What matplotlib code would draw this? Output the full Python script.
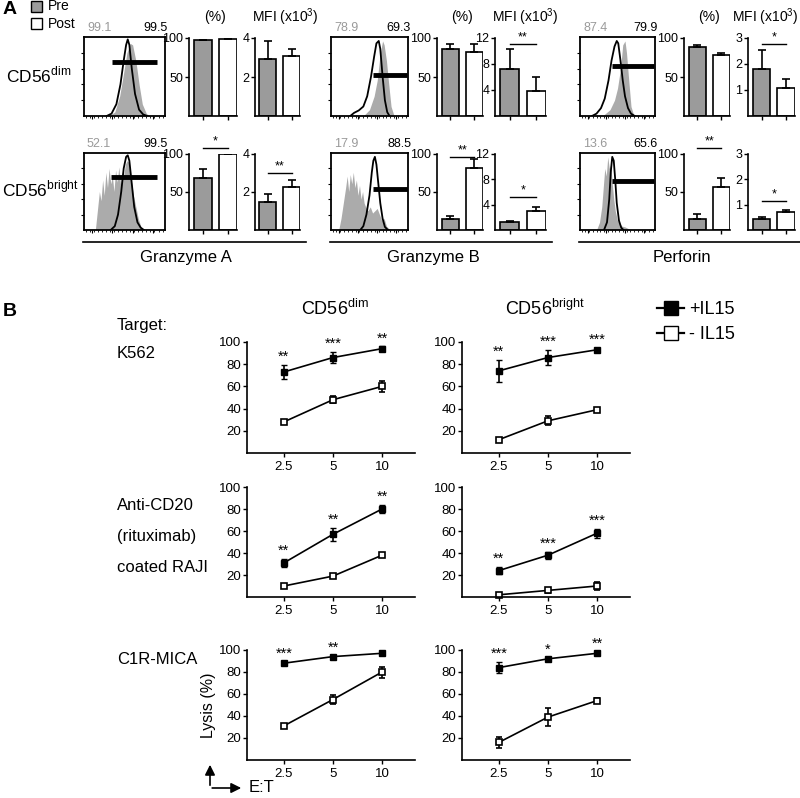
import numpy as np
import matplotlib.pyplot as plt
from matplotlib.lines import Line2D
from matplotlib.patches import Rectangle, FancyArrowPatch

plt.rcParams['font.family'] = ['Liberation Sans', 'DejaVu Sans']

# ---------------- panel A data ----------------
markers = ["Granzyme A", "Granzyme B", "Perforin"]
# each inner list: [CD56dim, CD56bright]
gate_pre = [["99.1", "52.1"], ["78.9", "17.9"], ["87.4", "13.6"]]
gate_post = [["99.5", "99.5"], ["69.3", "88.5"], ["79.9", "65.6"]]

pct_pre = [[97, 69], [86, 15], [88, 14]]
pct_pre_err = [[1, 11], [6, 4], [3, 7]]
pct_post = [[99, 99.5], [82, 81], [78, 57]]
pct_post_err = [[0.8, 0.3], [10, 12], [3, 11]]
pct_sig = [["", "*"], ["", "**"], ["", "**"]]
pct_sig_y = [[0, 108], [0, 96], [0, 108]]

mfi_pre = [[2.9, 1.45], [7.3, 1.2], [1.8, 0.45]]
mfi_pre_err = [[0.95, 0.42], [3.0, 0.2], [0.75, 0.05]]
mfi_post = [[3.1, 2.25], [3.9, 3.0], [1.08, 0.72]]
mfi_post_err = [[0.35, 0.38], [2.1, 0.6], [0.35, 0.08]]
mfi_sig = [["", "**"], ["**", "*"], ["*", "*"]]
mfi_sig_y = [[0, 3.0], [11.1, 5.2], [2.76, 1.14]]
mfi_max = [4, 12, 3]
mfi_ticks = [[2, 4], [4, 8, 12], [1, 2, 3]]

# flow histograms (x and height as fraction of the box)
hist_gray_x = [
    [[0.30, 0.38, 0.44, 0.49, 0.53, 0.57, 0.60, 0.64, 0.68, 0.72, 0.77, 0.82],
     [0.14, 0.17, 0.19, 0.21, 0.23, 0.25, 0.27, 0.29, 0.31, 0.33, 0.35, 0.37, 0.39, 0.41,
      0.43, 0.45, 0.47, 0.49, 0.51, 0.53, 0.55, 0.57, 0.59, 0.61, 0.64, 0.67, 0.70, 0.74]],
    [[0.42, 0.50, 0.56, 0.60, 0.64, 0.67, 0.69, 0.72, 0.75, 0.78, 0.82],
     [0.10, 0.13, 0.16, 0.19, 0.21, 0.23, 0.25, 0.27, 0.29, 0.31, 0.33, 0.35, 0.37, 0.39,
      0.41, 0.43, 0.45, 0.48, 0.51, 0.54, 0.57, 0.60, 0.63, 0.66, 0.69, 0.72, 0.75, 0.78]],
    [[0.30, 0.40, 0.46, 0.50, 0.54, 0.57, 0.60, 0.62, 0.65, 0.68, 0.72],
     [0.22, 0.26, 0.29, 0.31, 0.33, 0.35, 0.37, 0.39, 0.41, 0.43, 0.45, 0.47, 0.50, 0.53,
      0.56, 0.60, 0.64, 0.68]],
]
hist_gray_y = [
    [[0, 0.05, 0.25, 0.55, 0.80, 0.92, 0.90, 0.70, 0.40, 0.15, 0.03, 0],
     [0, 0.30, 0.50, 0.38, 0.65, 0.45, 0.75, 0.55, 0.80, 0.60, 0.70, 0.50, 0.78, 0.62,
      0.82, 0.60, 0.75, 0.70, 0.85, 0.90, 0.88, 0.75, 0.60, 0.45, 0.30, 0.15, 0.05, 0]],
    [[0, 0.08, 0.25, 0.45, 0.80, 0.95, 0.90, 0.70, 0.40, 0.12, 0],
     [0, 0.15, 0.35, 0.55, 0.70, 0.50, 0.72, 0.60, 0.75, 0.55, 0.65, 0.45, 0.58, 0.40,
      0.50, 0.35, 0.30, 0.25, 0.30, 0.22, 0.25, 0.28, 0.20, 0.12, 0.15, 0.05, 0.02, 0]],
    [[0, 0.08, 0.20, 0.35, 0.60, 0.90, 0.95, 0.80, 0.45, 0.12, 0],
     [0, 0.10, 0.30, 0.55, 0.80, 0.70, 0.95, 0.80, 0.85, 0.60, 0.40, 0.25, 0.12, 0.08,
      0.05, 0.04, 0.02, 0]],
]
hist_black_x = [
    [[0.28, 0.34, 0.40, 0.45, 0.49, 0.52, 0.54, 0.56, 0.59, 0.63, 0.68, 0.73, 0.78],
     [0.33, 0.38, 0.42, 0.46, 0.49, 0.52, 0.54, 0.56, 0.59, 0.62, 0.66, 0.70, 0.74]],
    [[0.25, 0.30, 0.36, 0.42, 0.47, 0.52, 0.56, 0.59, 0.62, 0.64, 0.67, 0.70, 0.73, 0.76],
     [0.38, 0.42, 0.46, 0.50, 0.53, 0.55, 0.57, 0.59, 0.61, 0.64, 0.67, 0.70, 0.74]],
    [[0.16, 0.22, 0.28, 0.33, 0.38, 0.42, 0.46, 0.49, 0.51, 0.54, 0.57, 0.60, 0.64, 0.68, 0.73],
     [0.32, 0.36, 0.39, 0.41, 0.43, 0.45, 0.47, 0.49, 0.52, 0.55, 0.58]],
]
hist_black_y = [
    [[0, 0.03, 0.15, 0.40, 0.70, 0.90, 0.97, 0.90, 0.60, 0.28, 0.08, 0.02, 0],
     [0, 0.05, 0.20, 0.50, 0.80, 0.95, 0.97, 0.90, 0.60, 0.30, 0.10, 0.03, 0]],
    [[0, 0.04, 0.07, 0.12, 0.25, 0.50, 0.75, 0.92, 0.95, 0.85, 0.50, 0.20, 0.05, 0],
     [0, 0.05, 0.20, 0.45, 0.75, 0.90, 0.95, 0.85, 0.65, 0.35, 0.15, 0.04, 0]],
    [[0, 0.03, 0.10, 0.22, 0.45, 0.70, 0.88, 0.95, 0.92, 0.70, 0.45, 0.25, 0.10, 0.03, 0],
     [0, 0.10, 0.40, 0.75, 0.95, 0.90, 0.65, 0.35, 0.12, 0.03, 0]],
]
gate_x0 = [[0.34, 0.33], [0.55, 0.55], [0.42, 0.42]]
gate_x1 = [[0.90, 0.90], [0.99, 1.00], [0.98, 0.98]]
gate_y = [[0.68, 0.69], [0.52, 0.53], [0.63, 0.63]]

# ---------------- panel B data ----------------
et_labels = ["2.5", "5", "10"]
# [row][col] -> CD56dim / CD56bright
plus_mean = [[[73, 86, 94], [74, 86, 93]],
             [[31, 57, 80], [24, 38, 58]],
             [[88, 94, 97], [84, 92, 97]]]
plus_err = [[[6, 5, 2], [10, 7, 2]],
            [[4, 6, 4], [3, 3, 4]],
            [[1, 1, 1], [5, 1, 1]]]
minus_mean = [[[28, 48, 60], [12, 29, 39]],
              [[10, 19, 38], [2, 6, 10]],
              [[31, 55, 80], [16, 39, 54]]]
minus_err = [[[1, 3, 5], [1, 4, 1]],
             [[1, 1, 1], [1, 2, 4]],
             [[2, 4, 5], [5, 8, 2]]]
stars = [[["**", "***", "**"], ["**", "***", "***"]],
         [["**", "**", "**"], ["**", "***", "***"]],
         [["***", "**", ""], ["***", "*", "**"]]]

W, H = 800, 798
fig = plt.figure(figsize=(8, 7.98), dpi=100)
GRAY_BAR = '#9b9b9b'
GRAY_HIST = '#ababab'


def px_axes(l, t, r, b):
    return fig.add_axes([l / W, 1 - b / H, (r - l) / W, (b - t) / H])


def px_text(x, y, s, **kw):
    fig.text(x / W, 1 - y / H, s, **kw)


def simple_spines(ax, size=9):
    for s in ['top', 'right']:
        ax.spines[s].set_visible(False)
    for s in ['left', 'bottom']:
        ax.spines[s].set_linewidth(1.2)
    ax.tick_params(direction='out', length=3, width=1, labelsize=size, pad=1)


hist_cols = [(84, 165), (331, 408), (580, 655)]
pct_cols = [(189, 237), (437, 483), (684, 730)]
mfi_cols = [(255, 300), (495, 546), (748, 795)]
a_rows = [(37, 116), (153, 230)]

for m in range(3):
    for r in range(2):
        top, bot = a_rows[r]
        # histogram
        ax = px_axes(hist_cols[m][0], top, hist_cols[m][1], bot)
        ax.fill_between(hist_gray_x[m][r], hist_gray_y[m][r], color=GRAY_HIST, lw=0)
        ax.plot(hist_black_x[m][r], hist_black_y[m][r], color='k', lw=1.3)
        ax.plot([gate_x0[m][r], gate_x1[m][r]], [gate_y[m][r]] * 2, color='k', lw=3.5,
                solid_capstyle='butt')
        ax.set_xlim(0, 1)
        ax.set_ylim(0, 1)
        ax.set_xticks([0.1, 0.35, 0.6, 0.85])
        ax.set_xticks(np.arange(0.02, 1, 0.05), minor=True)
        ax.set_yticks([0.2, 0.4, 0.6, 0.8])
        ax.tick_params(labelbottom=False, labelleft=False, length=2.5, width=0.8)
        ax.tick_params(which='minor', length=1.5, width=0.6)
        for s in ax.spines.values():
            s.set_linewidth(1.3)
        px_text(hist_cols[m][0] + 3, top - 9, gate_pre[m][r], color='#9a9a9a',
                fontsize=9, ha='left', va='center')
        px_text(hist_cols[m][1] + 3, top - 9, gate_post[m][r], color='k',
                fontsize=9, ha='right', va='center')

        # % bars
        ax = px_axes(pct_cols[m][0], top + 1, pct_cols[m][1], bot)
        ax.bar([0, 1], [pct_pre[m][r], pct_post[m][r]], width=0.72,
               color=[GRAY_BAR, 'white'], edgecolor='k', lw=1.2,
               yerr=[[0, 0], [pct_pre_err[m][r], pct_post_err[m][r]]],
               capsize=3, error_kw=dict(lw=1.2, capthick=1.2))
        ax.set_xlim(-0.55, 1.36)
        ax.set_ylim(0, 100)
        ax.set_yticks([50, 100])
        ax.set_xticks([0, 1])
        ax.set_xticklabels([])
        simple_spines(ax)
        if pct_sig[m][r]:
            y = pct_sig_y[m][r]
            ax.plot([0, 1], [y, y], color='k', lw=1, clip_on=False)
            ax.text(0.5, y + 1, pct_sig[m][r], ha='center', va='bottom', fontsize=9,
                    clip_on=False)

        # MFI bars
        ax = px_axes(mfi_cols[m][0], top + 1, mfi_cols[m][1], bot)
        ax.bar([0, 1], [mfi_pre[m][r], mfi_post[m][r]], width=0.72,
               color=[GRAY_BAR, 'white'], edgecolor='k', lw=1.2,
               yerr=[[0, 0], [mfi_pre_err[m][r], mfi_post_err[m][r]]],
               capsize=3, error_kw=dict(lw=1.2, capthick=1.2))
        ax.set_xlim(-0.55, 1.36)
        ax.set_ylim(0, mfi_max[m])
        ax.set_yticks(mfi_ticks[m])
        ax.set_xticks([0, 1])
        ax.set_xticklabels([])
        simple_spines(ax)
        if mfi_sig[m][r]:
            y = mfi_sig_y[m][r]
            ax.plot([0, 1], [y, y], color='k', lw=1, clip_on=False)
            ax.text(0.5, y + mfi_max[m] * 0.01, mfi_sig[m][r], ha='center', va='bottom',
                    fontsize=9, clip_on=False)

    # column headers and marker label
    px_text((pct_cols[m][0] + pct_cols[m][1]) / 2 + 2, 17, "(%)", fontsize=10,
            ha='center', va='center')
    if m < 2:
        px_text(mfi_cols[m][0] - 3, 17, "MFI (x10$^{\\mathregular{3}}$)", fontsize=10,
                ha='left', va='center')
    else:
        px_text(798, 17, "MFI (x10$^{\\mathregular{3}}$)", fontsize=10,
                ha='right', va='center')
    line_r = min(mfi_cols[m][1] + 6, 800)
    fig.add_artist(Line2D([(hist_cols[m][0] - 1) / W, line_r / W], [1 - 242 / H] * 2,
                         color='k', lw=1.2))
    px_text([186, 433, 682][m], 258, markers[m], fontsize=12, ha='center', va='center')

px_text(3, 9, "A", fontsize=14, fontweight='bold', ha='left', va='center')
fig.add_artist(Rectangle((31 / W, 1 - 12 / H), 11 / W, 11 / H, transform=fig.transFigure,
                         facecolor=GRAY_BAR, edgecolor='k', lw=1))
fig.add_artist(Rectangle((31 / W, 1 - 29 / H), 11 / W, 11 / H, transform=fig.transFigure,
                         facecolor='white', edgecolor='k', lw=1))
px_text(48, 6, "Pre", fontsize=10, ha='left', va='center')
px_text(48, 24, "Post", fontsize=10, ha='left', va='center')
px_text(6, 75, "CD56$^{\\mathregular{dim}}$", fontsize=12.5, ha='left', va='center')
px_text(2, 189, "CD56$^{\\mathregular{bright}}$", fontsize=12.5, ha='left', va='center')

# ---------------- panel B ----------------
b_rows = [(342, 453), (487, 597), (650, 760)]
b_cols = [(247, 415), (462, 630)]
x = np.arange(len(et_labels))
for r in range(3):
    for c in range(2):
        ax = px_axes(b_cols[c][0], b_rows[r][0], b_cols[c][1], b_rows[r][1])
        ax.errorbar(x, plus_mean[r][c], yerr=plus_err[r][c], fmt='-s', color='k',
                    mfc='k', mec='k', ms=4.6, lw=1.2, capsize=2.5, elinewidth=1.2,
                    clip_on=False)
        ax.errorbar(x, minus_mean[r][c], yerr=minus_err[r][c], fmt='-s', color='k',
                    mfc='white', mec='k', ms=4.6, mew=1.2, lw=1.2, capsize=2.5,
                    elinewidth=1.2, clip_on=False)
        for i in range(3):
            if stars[r][c][i]:
                ax.text(x[i], plus_mean[r][c][i] + plus_err[r][c][i] + 1, stars[r][c][i],
                        ha='center', va='bottom', fontsize=10.5, clip_on=False)
        ax.set_xlim(-0.75, 2.67)
        ax.set_ylim(0, 100)
        ax.set_yticks([20, 40, 60, 80, 100])
        ax.set_xticks(x)
        ax.set_xticklabels(et_labels)
        simple_spines(ax, size=9.5)
        ax.tick_params(axis='x', pad=3)
        if r == 2 and c == 0:
            ax.set_ylabel("Lysis (%)", fontsize=11.5, labelpad=2)

px_text(3, 311, "B", fontsize=14, fontweight='bold', ha='left', va='center')
px_text(335, 309, "CD56$^{\\mathregular{dim}}$", fontsize=13, ha='center', va='center')
px_text(545, 309, "CD56$^{\\mathregular{bright}}$", fontsize=13, ha='center', va='center')
px_text(117, 325, "Target:", fontsize=12, ha='left', va='center')
px_text(117, 354, "K562", fontsize=12, ha='left', va='center')
px_text(117, 505, "Anti-CD20", fontsize=12, ha='left', va='center')
px_text(117, 537, "(rituximab)", fontsize=12, ha='left', va='center')
px_text(117, 567, "coated RAJI", fontsize=12, ha='left', va='center')
px_text(117, 660, "C1R-MICA", fontsize=12, ha='left', va='center')

h_plus = Line2D([], [], color='k', marker='s', ms=10, mfc='k', lw=1.6)
h_minus = Line2D([], [], color='k', marker='s', ms=10, mfc='white', lw=1.6)
fig.legend([h_plus, h_minus], ["+IL15", "- IL15"], loc='upper left',
           bbox_to_anchor=(650 / W, 1 - 294 / H), frameon=False, fontsize=13,
           handlelength=1.5, handletextpad=0.25, labelspacing=0.45, borderaxespad=0)

# axis-direction arrows
fig.add_artist(FancyArrowPatch((210 / W, 1 - 788 / H), (210 / W, 1 - 762 / H),
                               transform=fig.transFigure, arrowstyle='-|>',
                               mutation_scale=15, color='k', lw=1.2))
fig.add_artist(FancyArrowPatch((209.4 / W, 1 - 788 / H), (244 / W, 1 - 788 / H),
                               transform=fig.transFigure, arrowstyle='-|>',
                               mutation_scale=15, color='k', lw=1.2))
px_text(249, 788, "E:T", fontsize=12, ha='left', va='center')

fig.savefig("out.png", dpi=100)
